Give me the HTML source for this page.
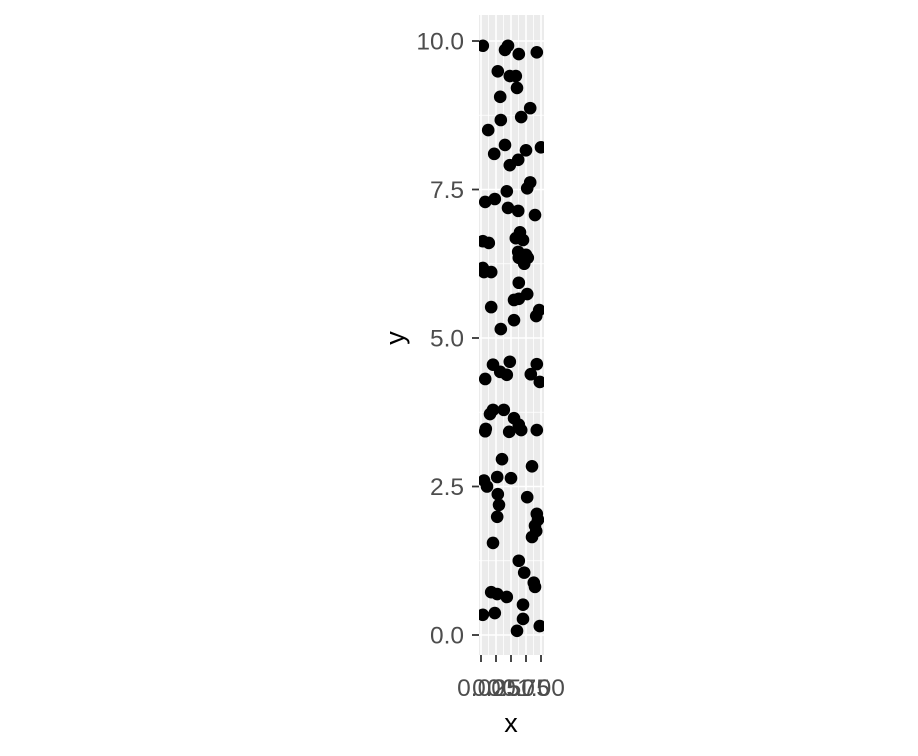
<!DOCTYPE html>
<html><head><meta charset="utf-8"><style>
body{margin:0;background:#fff;}
svg{display:block;font-family:"Liberation Sans",sans-serif;}
</style></head><body>
<svg id="chart" width="918" height="756">
<rect x="479" y="15" width="65" height="640" fill="#ebebeb"/>
<g id="grid"></g><g id="points"></g><g id="axes"></g>
<text x="511" y="732" font-size="27" text-anchor="middle" fill="#000">x</text>
<text transform="translate(404,338) rotate(-90)" font-size="27" text-anchor="middle" fill="#000">y</text>
</svg>
<script>
const xTicks=[0,0.25,0.5,0.75,1];
const xTickLabels=["0.00","0.25","0.50","0.75","1.00"];
const yTicks=[0,2.5,5,7.5,10];
const yTickLabels=["0.0","2.5","5.0","7.5","10.0"];
const xs=[0.03,0.4,0.45,0.63,0.93,0.28,0.48,0.58,0.6,0.32,0.12,0.33,0.67,0.82,0.22,0.4,0.48,0.62,0.75,1.0,0.07,0.23,0.43,0.45,0.62,0.77,0.82,0.9,0.03,0.13,0.65,0.7,0.58,0.62,0.63,0.75,0.78,0.72,0.05,0.17,0.03,0.63,0.17,0.55,0.63,0.77,0.97,0.92,0.33,0.55,0.07,0.2,0.32,0.43,0.48,0.93,0.83,0.98,0.08,0.15,0.2,0.38,0.55,0.63,0.07,0.47,0.67,0.93,0.35,0.85,0.27,0.5,0.77,0.28,0.3,0.27,0.93,0.95,0.9,0.92,0.85,0.2,0.63,0.72,0.88,0.9,0.17,0.27,0.43,0.7,0.03,0.23,0.7,0.6,0.98,0.1,0.05];
const ys=[9.92,9.85,9.92,9.78,9.81,9.49,9.41,9.41,9.21,9.06,8.5,8.67,8.72,8.87,8.1,8.25,7.91,8.0,8.16,8.21,7.29,7.34,7.47,7.19,7.14,7.52,7.62,7.07,6.63,6.6,6.78,6.65,6.68,6.45,6.35,6.4,6.35,6.25,6.11,6.11,6.18,5.93,5.52,5.64,5.66,5.74,5.47,5.37,5.15,5.3,4.31,4.55,4.43,4.38,4.6,4.56,4.39,4.26,3.47,3.72,3.79,3.79,3.65,3.54,3.43,3.42,3.45,3.45,2.96,2.84,2.66,2.64,2.32,2.37,2.19,1.99,2.04,1.94,1.84,1.75,1.65,1.55,1.25,1.05,0.88,0.81,0.72,0.69,0.64,0.51,0.34,0.37,0.27,0.07,0.15,2.5,2.6];
const NS="http://www.w3.org/2000/svg";
const X=v=>481+v*60, Y=v=>635-v*59.4;
const svg=document.getElementById('chart');
function mk(t,a,p){const e=document.createElementNS(NS,t);for(const k in a)e.setAttribute(k,a[k]);p.appendChild(e);return e;}
const grid=document.getElementById('grid'),axes=document.getElementById('axes'),pts=document.getElementById('points');
for(let i=0;i<yTicks.length;i++){
 if(i<yTicks.length-1){const m=mk('line',{x1:479,x2:544,y1:Y((yTicks[i]+yTicks[i+1])/2),y2:Y((yTicks[i]+yTicks[i+1])/2),stroke:'#fff','stroke-width':0.8},grid);
 }
 const g=mk('line',{x1:479,x2:544,y1:Y(yTicks[i]),y2:Y(yTicks[i]),stroke:'#fff','stroke-width':1.6},grid);
 
 const tk=mk('line',{x1:472,x2:479,y1:Y(yTicks[i]),y2:Y(yTicks[i]),stroke:'#333','stroke-width':1.8},axes);
 
 const t=mk('text',{x:464,y:Y(yTicks[i])+8.5,'font-size':24.5,'text-anchor':'end',fill:'#4d4d4d'},axes);t.textContent=yTickLabels[i];
 
}
for(let i=0;i<xTicks.length;i++){
 if(i<xTicks.length-1){const m=mk('line',{x1:X((xTicks[i]+xTicks[i+1])/2),x2:X((xTicks[i]+xTicks[i+1])/2),y1:15,y2:655,stroke:'#fff','stroke-width':0.8},grid);
 }
 const g=mk('line',{x1:X(xTicks[i]),x2:X(xTicks[i]),y1:15,y2:655,stroke:'#fff','stroke-width':1.6},grid);
 
 const tk=mk('line',{x1:X(xTicks[i]),x2:X(xTicks[i]),y1:655,y2:662,stroke:'#333','stroke-width':1.8},axes);
 
 const t=mk('text',{x:X(xTicks[i]),y:696,'font-size':24.5,'text-anchor':'middle',fill:'#4d4d4d'},axes);t.textContent=xTickLabels[i];
 
}
const cp=mk('clipPath',{id:'clip'},svg);mk('rect',{x:479,y:15,width:65,height:640},cp);
pts.setAttribute('clip-path','url(#clip)');
for(let i=0;i<xs.length;i++){
 const c=mk('circle',{cx:X(xs[i]),cy:Y(ys[i]),r:6.3,fill:'#000'},pts);
 
 
}
</script>
</body></html>
